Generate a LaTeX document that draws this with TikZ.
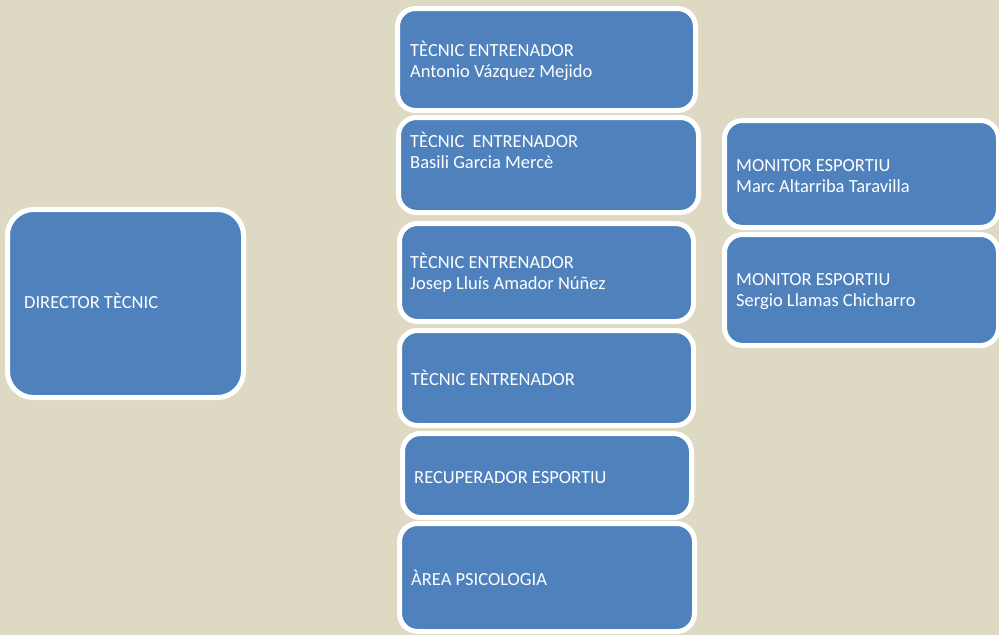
\documentclass[tikz,border=0pt]{standalone}
\usepackage{fontspec}
\setmainfont{Carlito}
\definecolor{bgtan}{HTML}{DDD9C3}
\definecolor{boxblue}{HTML}{4F81BD}
\begin{document}
\begin{tikzpicture}[x=1pt,y=-1pt,
  orgbox/.style={fill=boxblue, draw=white, line width=5pt, rounded corners=18pt},
  bigbox/.style={orgbox, rounded corners=26pt},
  lbl/.style={inner sep=0pt, anchor=base west, text=white, font=\fontsize{18.5}{21}\selectfont}]
\fill[bgtan] (0,0) rectangle (999,635);
\useasboundingbox (0,0) rectangle (999,635);
% boxes (outer edges minus half border)
\path[bigbox] (7.5,209.5) rectangle (243.5,397.5);
\path[orgbox] (397.5,8.5) rectangle (695.5,110.5);
\path[orgbox] (398.5,117.5) rectangle (698.5,212.5);
\path[orgbox] (399.5,223.5) rectangle (693.5,321.5);
\path[orgbox] (399.5,330.5) rectangle (693.5,425.5);
\path[orgbox] (402.5,433.5) rectangle (691.5,517.5);
\path[orgbox] (399.5,523.5) rectangle (694.5,631.5);
\path[orgbox] (724.5,120.5) rectangle (998.5,227.5);
\path[orgbox] (724.5,234.5) rectangle (998.5,345.5);
% labels
\node[lbl] (t0) at (24,308) {DIRECTOR TÈCNIC};
\node[lbl] (t1a) at (410,56) {TÈCNIC ENTRENADOR};
\node[lbl] (t1b) at (410,77) {Antonio Vázquez Mejido};
\node[lbl] (t2a) at (410,147) {TÈCNIC\ \ ENTRENADOR};
\node[lbl] (t2b) at (410,168) {Basili Garcia Mercè};
\node[lbl] (t3a) at (410,268) {TÈCNIC ENTRENADOR};
\node[lbl] (t3b) at (410,289) {Josep Lluís Amador Núñez};
\node[lbl] (t4) at (411,385) {TÈCNIC ENTRENADOR};
\node[lbl] (t5) at (414,483) {RECUPERADOR ESPORTIU};
\node[lbl] (t6) at (411,585) {ÀREA PSICOLOGIA};
\node[lbl] (m1a) at (736,171) {MONITOR ESPORTIU};
\node[lbl] (m1b) at (736,192) {Marc Altarriba Taravilla};
\node[lbl] (m2a) at (736,285) {MONITOR ESPORTIU};
\node[lbl] (m2b) at (736,306) {Sergio Llamas Chicharro};
\end{tikzpicture}
\end{document}
